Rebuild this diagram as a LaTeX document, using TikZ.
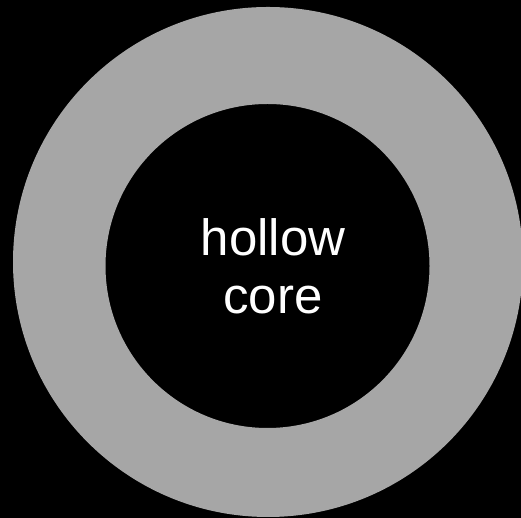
\documentclass[tikz,border=0pt]{standalone}
\usepackage{fontspec}
\setmainfont{Liberation Sans}
\definecolor{ringgray}{HTML}{A6A6A6}
\begin{document}
\begin{tikzpicture}[x=1pt,y=1pt,
  lbl/.style={text=white,font=\fontsize{51}{58}\selectfont,align=center,inner sep=0pt}]
\fill[black] (0,0) rectangle (521,518);
\useasboundingbox (0,0) rectangle (521,518);
\begin{scope}
\clip (0,0) rectangle (521,518);
\fill[ringgray,even odd rule] (268,256) circle[radius=255] (267.5,252) circle[radius=162];
\end{scope}
\node[lbl] (core) at (273,252) {hollow\\core};
\end{tikzpicture}
\end{document}
